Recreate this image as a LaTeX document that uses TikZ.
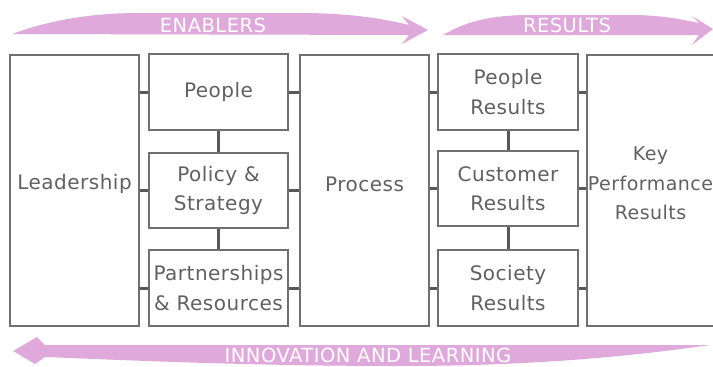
\documentclass[tikz,border=0pt]{standalone}
\usepackage{fontspec}
\setmainfont{DejaVu Sans}[LetterSpace=2.5]
\definecolor{arrowpink}{RGB}{223,169,220}
\definecolor{boxgrey}{RGB}{112,112,112}
\definecolor{linkgrey}{RGB}{88,88,88}
\definecolor{textgrey}{RGB}{96,96,96}
\tikzset{
  boxtext/.style={text=textgrey, align=center, inner sep=0pt,
    font=\fontsize{20pt}{29.5pt}\selectfont},
  smallbox/.style={boxtext, draw=boxgrey, line width=2pt,
    minimum width=139pt, minimum height=76pt},
  bigbox/.style={draw=boxgrey, line width=2pt,
    minimum width=129pt, minimum height=271pt},
  link/.style={draw=linkgrey, line width=3pt},
  bannertext/.style={text=white, inner sep=0pt,
    font=\fontsize{19.5pt}{22pt}\selectfont}
}
\begin{document}
\begin{tikzpicture}[x=1pt, y=-1pt]
    \useasboundingbox (0,0) rectangle (713,367);

    % Top banners
    \fill[arrowpink] (12,34) .. controls (45,22) and (85,13) .. (140,13) -- (300,13)
        .. controls (350,13) and (385,19) .. (409,25) -- (402,16) -- (428,30)
        -- (402,44) -- (409,35) -- cycle;
    \node[bannertext] (enablers) at (213,25) {ENABLERS};

    \fill[arrowpink] (443,35) .. controls (465,22) and (490,15) .. (530,15) -- (630,15)
        .. controls (660,15) and (680,19) .. (699,23) -- (692,16) -- (713,29)
        -- (692,45) -- (699,35) -- cycle;
    \node[bannertext] (results) at (567,25.5) {RESULTS};

    % Bottom banner (pointing back)
    \fill[arrowpink] (13,351) -- (37,337) -- (45,345) -- (710,345)
        .. controls (620,358) and (520,366) .. (400,366)
        .. controls (250,366) and (120,360) .. (45,357) -- (35,364) -- cycle;
    \node[bannertext] (innovation) at (368,355.5) {INNOVATION AND LEARNING};

    % Enablers
    \node[bigbox] (lead) at (74.5,190.5) {};
    \node[boxtext] (lead-txt) at ([yshift=6.5pt]lead.center) {Leadership};
    \node[smallbox] (people) at (218.5,92) {People};
    \node[smallbox, minimum height=75pt] (policy) at (218.5,190.5) {Policy \&\\Strategy};
    \node[smallbox] (partners) at (218.5,288) {Partnerships\\\& Resources};
    \node[bigbox] (process) at (364.5,190.5) {};
    \node[boxtext] (process-txt) at ([yshift=6.5pt]process.center) {Process};

    % Results
    \node[smallbox, minimum width=140pt] (peopleres) at (508,92) {People\\Results};
    \node[smallbox, minimum width=140pt, minimum height=75pt] (custres) at (508,188.5) {Customer\\Results};
    \node[smallbox, minimum width=140pt] (socres) at (508,288) {Society\\Results};
    \node[bigbox] (kpr) at (651.5,190.5) {};
    \node[boxtext, font=\fontsize{19pt}{29.5pt}\selectfont] (kpr-txt)
        at ([xshift=-1pt, yshift=7pt]kpr.center) {Key\\Performance\\Results};

    % Links between the columns
    \foreach \b in {people, policy, partners} {
        \draw[link] (lead.east |- \b) -- (\b.west);
        \draw[link] (\b.east) -- (process.west |- \b);
    }
    \foreach \b in {peopleres, custres, socres} {
        \draw[link] (process.east |- \b) -- (\b.west);
        \draw[link] (\b.east) -- (kpr.west |- \b);
    }
    \draw[link] (people.south) -- (policy.north);
    \draw[link] (policy.south) -- (partners.north);
    \draw[link] (peopleres.south) -- (custres.north);
    \draw[link] (custres.south) -- (socres.north);
\end{tikzpicture}
\end{document}
